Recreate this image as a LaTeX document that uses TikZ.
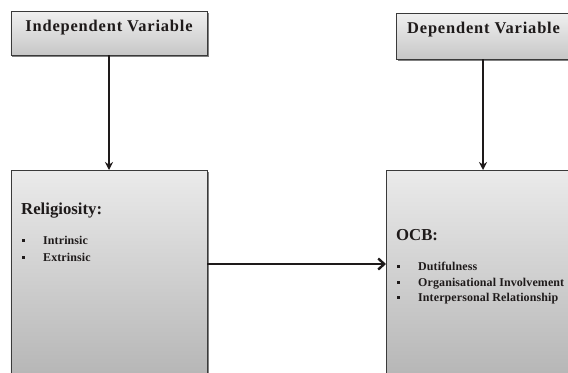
\documentclass[tikz,border=0pt]{standalone}
\usepackage{fontspec}
\setmainfont{Liberation Serif}
\usetikzlibrary{arrows.meta,shadows}
\definecolor{txt}{HTML}{1E1A1A}
\definecolor{edge}{HTML}{3A3A3A}
\begin{document}
\begin{tikzpicture}[x=1bp,y=-1bp,
  box/.style={draw=edge, line width=0.9bp, top color=black!6, bottom color=black!22,
    drop shadow={shadow xshift=1.5bp, shadow yshift=-1.5bp, fill=black!50, opacity=1},
    inner sep=0pt, outer sep=0pt},
  bigbox/.style={box, top color=black!8, bottom color=black!30},
  head/.style={font=\fontsize{16.5}{18}\selectfont\bfseries\addfontfeature{LetterSpace=5}, text=txt, inner sep=0pt},
  title/.style={font=\fontsize{16.8}{18}\selectfont\bfseries, text=txt, inner sep=0pt, anchor=base west},
  item/.style={font=\fontsize{12}{13}\selectfont\bfseries\addfontfeature{LetterSpace=1}, text=txt, inner sep=0pt, anchor=base west},
  bul/.style={fill=txt, minimum size=3bp, inner sep=0pt},
  arr/.style={draw=txt, line width=2.6bp, -{Stealth[length=8bp,width=8bp]}},
  harr/.style={draw=txt, line width=2.6bp, -{Straight Barb[length=6bp,width=11bp,line width=2.4bp]}}]
\useasboundingbox (0,0) rectangle (568,372);
\clip (0,0) rectangle (568,372);
% top boxes
\node[box, minimum width=196bp, minimum height=44bp] (ind) at (109,33) {};
\node[head, anchor=base] (indt) at (109,31) {Independent Variable};
\node[box, minimum width=180bp, minimum height=46bp] (dep) at (486,36) {};
\node[head, anchor=base west] (dept) at (407,33) {Dependent Variable};
% big boxes
\node[bigbox, minimum width=196bp, minimum height=220bp] (rel) at (109,280) {};
\node[bigbox, minimum width=194bp, minimum height=220bp] (ocb) at (483,280) {};
% left texts
\node[title] (relt) at (21,214) {Religiosity:};
\node[bul] (b1) at (23.5,240) {};
\node[item] (i1) at (43,244) {Intrinsic};
\node[bul] (b2) at (23.5,257) {};
\node[item] (i2) at (43,261) {Extrinsic};
% right texts
\node[title] (ocbt) at (396,240) {OCB:};
\node[bul] (c1) at (398.5,266) {};
\node[item] (j1) at (418,270) {Dutifulness};
\node[bul] (c2) at (398.5,282) {};
\node[item] (j2) at (418,286) {Organisational Involvement};
\node[bul] (c3) at (398.5,297) {};
\node[item] (j3) at (418,301) {Interpersonal Relationship};
% arrows
\coordinate (hs) at (207,264);
\coordinate (he) at (386,264);
\draw[arr] (ind.south) -- (rel.north);
\draw[arr] (dep.south -| ocb.north) -- (ocb.north);
\draw[harr] (hs) -- (he);
\end{tikzpicture}
\end{document}
